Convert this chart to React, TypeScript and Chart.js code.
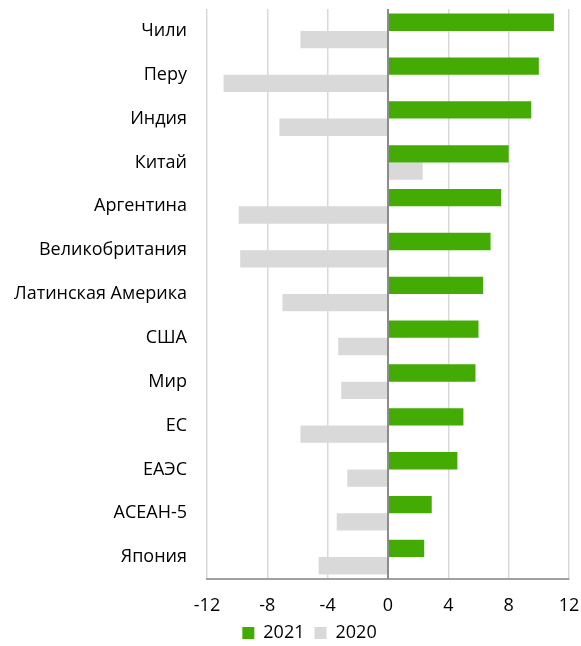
import React, { useEffect, useRef } from "react";
import { Chart, registerables } from "chart.js";

Chart.register(...registerables);

const categories = [
  "Чили",
  "Перу",
  "Индия",
  "Китай",
  "Аргентина",
  "Великобритания",
  "Латинская Америка",
  "США",
  "Мир",
  "ЕС",
  "ЕАЭС",
  "АСЕАН-5",
  "Япония",
];
const values2021 = [11.0, 10.0, 9.5, 8.0, 7.5, 6.8, 6.3, 6.0, 5.8, 5.0, 4.6, 2.9, 2.4];
const values2020 = [-5.8, -10.9, -7.2, 2.3, -9.9, -9.8, -7.0, -3.3, -3.1, -5.8, -2.7, -3.4, -4.6];
const xTicks = [-12, -8, -4, 0, 4, 8, 12];

const FONT = "'Open Sans', sans-serif";

const zeroLine = {
  id: "zeroLine",
  afterDatasetsDraw(chart: any) {
    const x = chart.scales.x.getPixelForValue(0);
    const { top, bottom } = chart.chartArea;
    const ctx = chart.ctx;
    ctx.save();
    ctx.strokeStyle = "#8c8c8c";
    ctx.lineWidth = 2;
    ctx.beginPath();
    ctx.moveTo(x, top);
    ctx.lineTo(x, bottom);
    ctx.stroke();
    ctx.restore();
  },
};

const shiftLegend = {
  id: "shiftLegend",
  afterLayout(chart: any) {
    if (chart.legend) {
      chart.legend.left += 25;
      chart.legend.right += 25;
    }
  },
};

export default function App() {
  const ref = useRef<HTMLCanvasElement | null>(null);
  useEffect(() => {
    if (!ref.current) return;
    const chart = new Chart(ref.current, {
      type: "bar",
      data: {
        labels: categories,
        datasets: [
          {
            label: "2021",
            data: values2021,
            backgroundColor: "#43ab04",
            categoryPercentage: 0.79,
            barPercentage: 1,
          },
          {
            label: "2020",
            data: values2020,
            backgroundColor: "#d9d9d9",
            categoryPercentage: 0.79,
            barPercentage: 1,
          },
        ],
      },
      options: {
        indexAxis: "y",
        animation: false,
        responsive: true,
        maintainAspectRatio: false,
        layout: { padding: { top: 9, right: 12, left: 0, bottom: -6 } },
        scales: {
          x: {
            min: -12,
            max: 12,
            afterBuildTicks: (axis: any) => {
              axis.ticks = xTicks.map((v) => ({ value: v }));
            },
            afterFit: (axis: any) => {
              axis.height = 35;
            },
            grid: {
              color: "#d9d9d9",
              lineWidth: 1.5,
              drawTicks: true,
              tickLength: 16,
              tickColor: "rgba(0,0,0,0)",
            },
            border: { display: true, color: "#a0a0a0", width: 2 },
            ticks: {
              color: "#000",
              padding: 0,
              maxRotation: 0,
              font: { family: FONT, size: 18 },
            },
          },
          y: {
            afterFit: (axis: any) => {
              axis.width = 207;
            },
            grid: { display: false, drawTicks: true, tickLength: 20 },
            border: { display: false },
            ticks: {
              color: "#000",
              padding: 0,
              font: { family: FONT, size: 18, lineHeight: 0.8 },
            },
          },
        },
        plugins: {
          legend: {
            position: "bottom",
            labels: {
              boxWidth: 12,
              boxHeight: 12,
              color: "#000",
              padding: 10,
              font: { family: FONT, size: 18 },
            },
          },
          tooltip: { enabled: false },
        },
      },
      plugins: [zeroLine, shiftLegend],
    });
    return () => chart.destroy();
  }, []);
  return (
    <div style={{ position: "absolute", top: 0, left: 0, width: 581, height: 646 }}>
      <canvas ref={ref} />
    </div>
  );
}
